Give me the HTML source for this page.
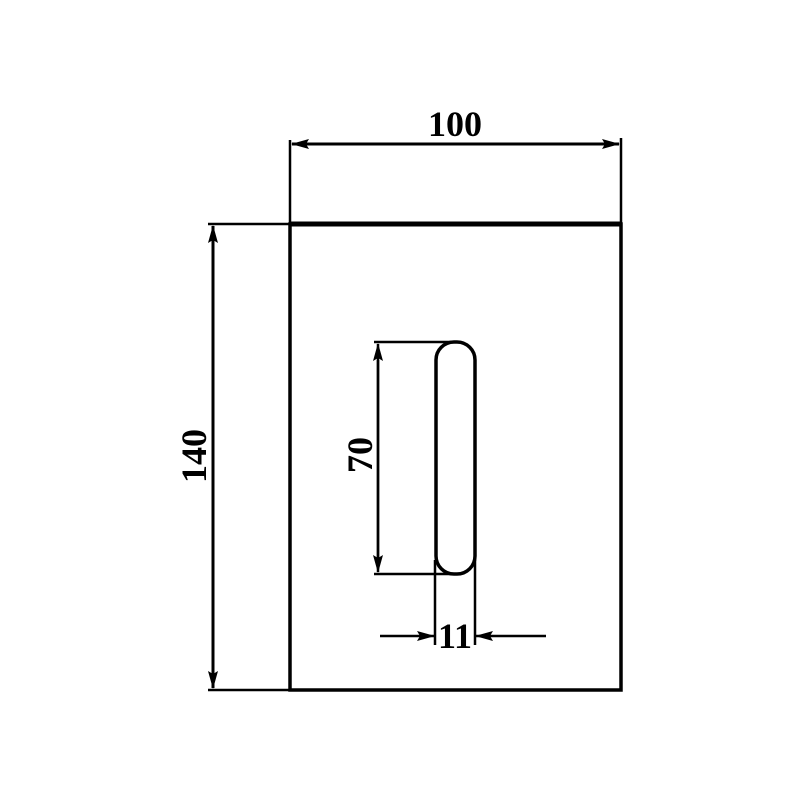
<!DOCTYPE html>
<html><head><style>body{margin:0;background:#fff}</style></head><body>
<svg width="800" height="800" viewBox="0 0 800 800" xmlns="http://www.w3.org/2000/svg">
<defs>
<marker id="a" markerWidth="18" markerHeight="10" refX="17" refY="5" orient="auto" markerUnits="userSpaceOnUse"><path d="M0,0 L18,5 L0,10 L3,5 Z" fill="#000"/></marker>
</defs>
<g stroke="#000" fill="none">
<rect x="290" y="224" width="331" height="466" stroke-width="3.5"/>
<line x1="290" y1="224" x2="621" y2="224" stroke-width="5"/>
<line x1="290" y1="140" x2="290" y2="224" stroke-width="2.5"/>
<line x1="621" y1="138" x2="621" y2="224" stroke-width="2.5"/>
<line x1="300" y1="144" x2="619" y2="144" stroke-width="3" marker-end="url(#a)"/>
<line x1="610" y1="144" x2="292" y2="144" stroke-width="3" marker-end="url(#a)"/>
<line x1="208" y1="224" x2="290" y2="224" stroke-width="2.5"/>
<line x1="208" y1="690" x2="290" y2="690" stroke-width="2.5"/>
<line x1="213" y1="240" x2="213" y2="688" stroke-width="3" marker-end="url(#a)"/>
<line x1="213" y1="680" x2="213" y2="226" stroke-width="3" marker-end="url(#a)"/>
<rect x="436" y="342" width="39" height="232" rx="18" ry="18" stroke-width="3.5"/>
<line x1="374" y1="342" x2="455" y2="342" stroke-width="2.5"/>
<line x1="374" y1="574" x2="455" y2="574" stroke-width="2.5"/>
<line x1="378" y1="360" x2="378" y2="572" stroke-width="2.5" marker-end="url(#a)"/>
<line x1="378" y1="560" x2="378" y2="344" stroke-width="2.5" marker-end="url(#a)"/>
<line x1="435" y1="560" x2="435" y2="645" stroke-width="2.5"/>
<line x1="475" y1="560" x2="475" y2="645" stroke-width="2.5"/>
<line x1="380" y1="636" x2="434" y2="636" stroke-width="2.5" marker-end="url(#a)"/>
<line x1="546" y1="636" x2="476" y2="636" stroke-width="2.5" marker-end="url(#a)"/>
</g>
<g font-family="Liberation Serif, serif" font-weight="bold" fill="#000" text-anchor="middle">
<text x="455" y="136" font-size="36">100</text>
<text x="0" y="0" font-size="36" transform="translate(206,456) rotate(-90)">140</text>
<text x="0" y="0" font-size="36" transform="translate(372,455) rotate(-90)">70</text>
<text x="455" y="648" font-size="36">11</text>
</g>
</svg>
</body></html>
